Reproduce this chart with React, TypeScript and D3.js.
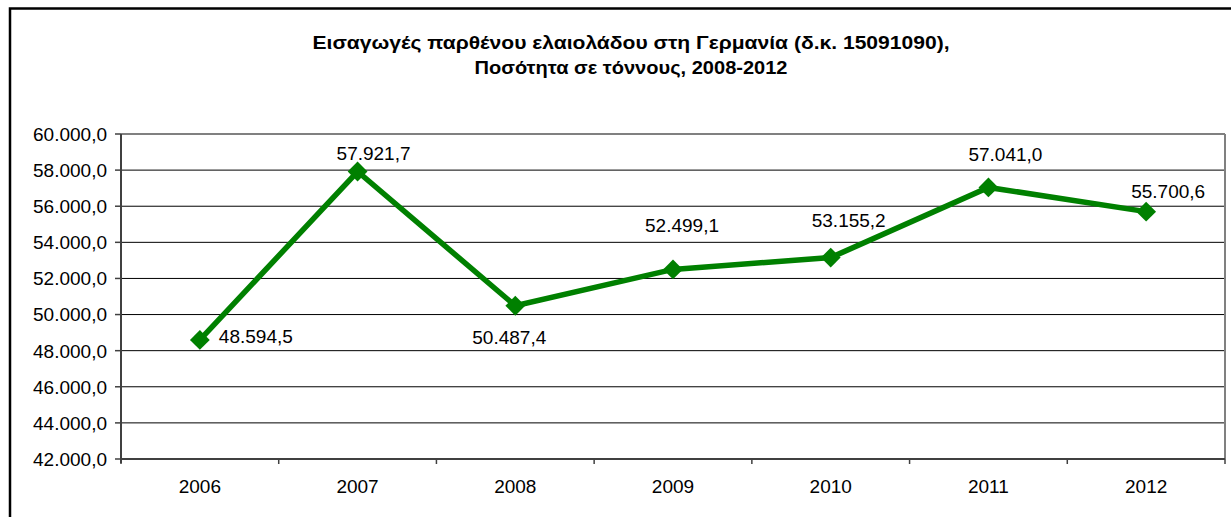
import React from 'react'
import * as d3 from 'd3'

const years = ['2006', '2007', '2008', '2009', '2010', '2011', '2012']
const imports = [48594.5, 57921.7, 50487.4, 52499.1, 53155.2, 57041.0, 55700.6]
const yTicks = [42000, 44000, 46000, 48000, 50000, 52000, 54000, 56000, 58000, 60000]
const titleLines = [
  'Εισαγωγές παρθένου ελαιολάδου στη Γερμανία (δ.κ. 15091090),',
  'Ποσότητα σε τόννους, 2008-2012'
]

// where Excel put each data label, relative to its marker
const labelOffsets: [number, number][] = [
  [19, 3], [16, -12], [-6, 38], [9, -37], [18, -31], [17, -26], [22, -14]
]
// measured widths of the two title lines
const titleWidths = [637, 313]

const greek = d3.formatLocale({ decimal: ',', thousands: '.', grouping: [3], currency: ['', ' €'] })
const fmt = greek.format(',.1f')

export default function App() {
  const width = 1231
  const height = 517
  const plot = { left: 121, right: 1225, top: 134, bottom: 459 }
  const font = '"Liberation Sans", Arial, sans-serif'

  const x = d3.scaleBand<string>().domain(years).range([plot.left, plot.right]).padding(0)
  const y = d3.scaleLinear().domain([42000, 60000]).range([plot.bottom, plot.top])
  const cx = (i: number) => (x(years[i]) ?? 0) + x.bandwidth() / 2

  const points = imports.map((v, i) => [cx(i), y(v)] as [number, number])
  const linePath = d3.line().curve(d3.curveLinear)(points) ?? ''
  const boundaries = years.map(yr => x(yr) ?? 0).concat([plot.right])
  const diamond = d3.symbol().type(d3.symbolDiamond2).size(250)()

  return (
    <svg width={width} height={height} viewBox={`0 0 ${width} ${height}`}
      style={{ position: 'absolute', left: 0, top: 0, display: 'block', background: '#fff' }}
      fontFamily={font}>
      <rect x={10} y={8.5} width={1240} height={520} fill="#fff" stroke="#000" strokeWidth={2.5} />

      {titleLines.map((t, i) => (
        <text key={i} x={631} y={49 + i * 25} textAnchor="middle" fontSize={19} fontWeight="bold" fill="#000"
          textLength={titleWidths[i]} lengthAdjust="spacingAndGlyphs">{t}</text>
      ))}

      {yTicks.slice(1).map(t => (
        <line key={`g${t}`} x1={plot.left} x2={plot.right} y1={y(t)} y2={y(t)}
          stroke={t === 60000 ? '#808080' : '#000'} strokeWidth={t === 60000 ? 2 : 1} />
      ))}
      <line x1={plot.right} x2={plot.right} y1={plot.top} y2={plot.bottom} stroke="#808080" strokeWidth={2} />

      {yTicks.map(t => (
        <g key={`y${t}`}>
          <line x1={plot.left - 6} x2={plot.left} y1={y(t)} y2={y(t)} stroke="#404040" strokeWidth={1.5} />
          <text x={plot.left - 14} y={y(t)} dy="0.36em" textAnchor="end" fontSize={19} fill="#000">{fmt(t)}</text>
        </g>
      ))}
      <line x1={plot.left} x2={plot.left} y1={plot.top} y2={plot.bottom + 4} stroke="#404040" strokeWidth={2} />
      <line x1={plot.left} x2={plot.right} y1={plot.bottom} y2={plot.bottom} stroke="#404040" strokeWidth={2} />
      {boundaries.map((b, i) => (
        <line key={`xt${i}`} x1={b} x2={b} y1={plot.bottom} y2={plot.bottom + 5} stroke="#404040" strokeWidth={1.5} />
      ))}
      {years.map((yr, i) => (
        <text key={yr} x={cx(i)} y={493} textAnchor="middle" fontSize={19} fill="#000">{yr}</text>
      ))}

      <path d={linePath} fill="none" stroke="#008000" strokeWidth={5.5} strokeLinejoin="miter" />
      {points.map(([px, py], i) => (
        <path key={`m${i}`} d={diamond ?? ''} transform={`translate(${px},${py})`} fill="#008000" />
      ))}
      {points.map(([px, py], i) => (
        <text key={`l${i}`} x={px + labelOffsets[i][0]} y={py + labelOffsets[i][1]}
          textAnchor={i === 0 ? 'start' : 'middle'} fontSize={19} fill="#000">{fmt(imports[i])}</text>
      ))}
    </svg>
  )
}
